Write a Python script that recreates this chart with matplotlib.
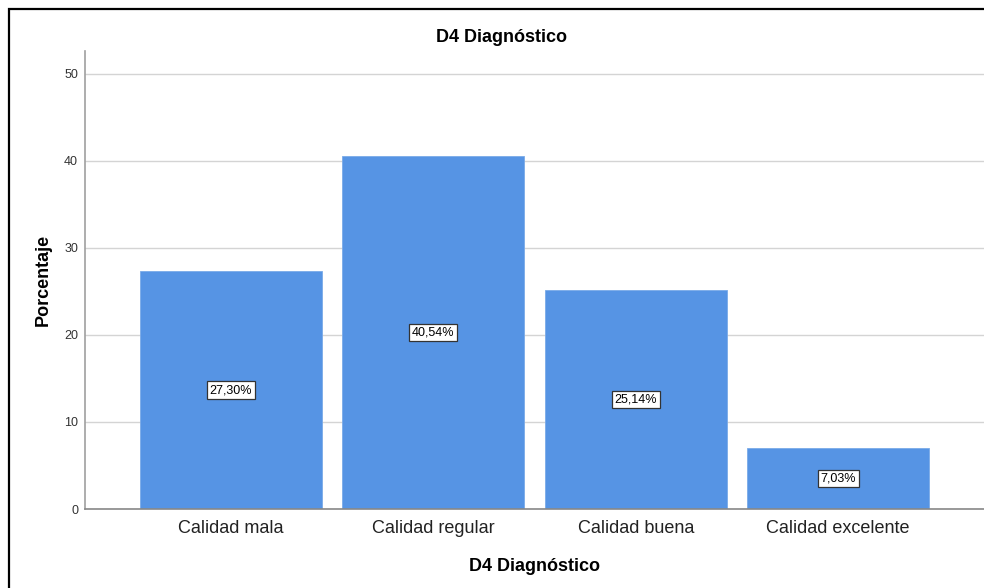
import matplotlib
matplotlib.use("Agg")
import matplotlib.pyplot as plt
from matplotlib.patches import Rectangle

plt.rcParams['font.family'] = ['Liberation Sans', 'DejaVu Sans']

categories = ["Calidad mala", "Calidad regular", "Calidad buena", "Calidad excelente"]
percentages = [27.30, 40.54, 25.14, 7.03]
yticks = [0, 10, 20, 30, 40, 50]
title = "D4 Diagnóstico"
xlabel = "D4 Diagnóstico"
ylabel = "Porcentaje"

W, H = 984, 588
fig = plt.figure(figsize=(W / 100, H / 100), dpi=100)

# outer frame (runs off the right and bottom edge)
fig.add_artist(Rectangle((9 / W, -0.05), 1.2, 1 - 9 / H + 0.05,
                         transform=fig.transFigure, fill=False,
                         edgecolor="black", linewidth=1.6))

ax = fig.add_axes([85 / W, 1 - 509 / H, 1 - 85 / W, (509 - 51) / H])

x = list(range(len(categories)))
bars = ax.bar(x, percentages, width=0.9, color="#5694e4",
              edgecolor="#7aaae8", linewidth=0.6, zorder=2)

for xi, v in zip(x, percentages):
    ax.text(xi, v / 2, f"{v:.2f}%".replace(".", ","), ha="center", va="center",
            fontsize=9, color="black", zorder=3,
            bbox=dict(boxstyle="square,pad=0.22", facecolor="white",
                      edgecolor="#333333", linewidth=0.9))

ax.set_xlim(-0.72, 3.72)
ax.set_ylim(0, 52.6)
ax.set_yticks(yticks)
ax.set_xticks(x)
ax.set_xticklabels(categories, fontsize=13, color="#222222")
ax.tick_params(axis="y", length=0, labelsize=9, labelcolor="#333333", pad=5)
ax.tick_params(axis="x", length=0, pad=8)

ax.yaxis.grid(True, color="#d4d4d4", linewidth=1.0, zorder=0)
ax.set_axisbelow(True)
for s in ["top", "right"]:
    ax.spines[s].set_visible(False)
ax.spines["left"].set_color("#a0a0a0")
ax.spines["left"].set_linewidth(1.2)
ax.spines["bottom"].set_color("#888888")
ax.spines["bottom"].set_linewidth(1.2)

ax.set_xlabel(xlabel, fontsize=13, fontweight="bold", labelpad=15)
ax.set_ylabel(ylabel, fontsize=13, fontweight="bold", labelpad=9)

fig.text(502 / W, 1 - 37 / H, title, ha="center", va="center",
         fontsize=13, fontweight="bold")

fig.savefig("out.png", dpi=100)
